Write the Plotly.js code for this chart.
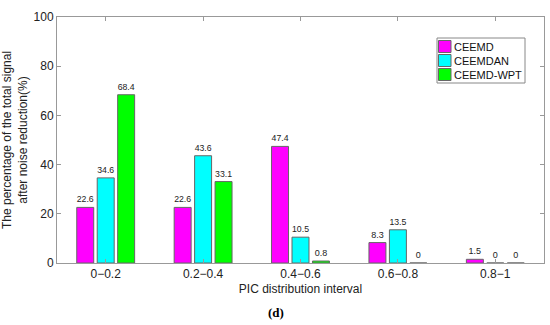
<!DOCTYPE html>
<html><head><meta charset="utf-8">
<script src="https://cdn.plot.ly/plotly-3.0.1.min.js"></script>
<style>html,body{margin:0;padding:0;background:#fff}#chart{width:550px;height:325px}</style>
</head><body><div id="chart"></div>
<script>
const categories = ["0\u22120.2", "0.2\u22120.4", "0.4\u22120.6", "0.6\u22120.8", "0.8\u22121"];
const seriesNames = ["CEEMD", "CEEMDAN", "CEEMD-WPT"];
const ceemd = [22.6, 22.6, 47.4, 8.3, 1.5];
const ceemdan = [34.6, 43.6, 10.5, 13.5, 0];
const ceemdWpt = [68.4, 33.1, 0.8, 0, 0];
const colors = ["#FF00FF", "#00FFFF", "#00FF00"];
const yTicks = [0, 20, 40, 60, 80, 100];

const FONT = "Liberation Sans, Arial, sans-serif";
const allVals = [ceemd, ceemdan, ceemdWpt];
const traces = allVals.map((vals, i) => ({
  type: "bar",
  name: seriesNames[i],
  x: categories,
  y: vals,
  text: vals.map(v => String(v)),
  textposition: "outside",
  cliponaxis: false,
  textfont: {family: FONT, size: 9, color: "#222"},
  marker: {color: colors[i], line: {color: "#666", width: 1}},
  showlegend: false
}));

const axisCommon = {
  showline: true, linecolor: "#999", linewidth: 1, mirror: "ticks",
  ticks: "inside", tickcolor: "#999", ticklen: 4,
  showgrid: false, zeroline: false,
  tickfont: {family: FONT, size: 12, color: "#222"}
};

// Custom compact legend (paper coords), built from seriesNames/colors
const W = 550, H = 325, ML = 57, MR = 6, MT = 17, MB = 62;
const pw = W - ML - MR, ph = H - MT - MB;
const px = x => (x - ML) / pw;
const py = y => 1 - (y - MT) / ph;
const shapes = [{
  type: "rect", xref: "paper", yref: "paper",
  x0: px(437), x1: px(525), y0: py(83), y1: py(38),
  line: {color: "#888", width: 1}, fillcolor: "#fff"
}];
const annotations = [];
seriesNames.forEach((n, i) => {
  const top = 40.5 + i * 14;
  shapes.push({
    type: "rect", xref: "paper", yref: "paper",
    x0: px(438.5), x1: px(451), y0: py(top + 12), y1: py(top),
    line: {color: "#666", width: 1}, fillcolor: colors[i]
  });
  annotations.push({
    text: n, xref: "paper", yref: "paper", x: px(451.5), y: py(top + 6.5),
    xanchor: "left", yanchor: "middle", showarrow: false,
    font: {family: FONT, size: 11, color: "#111"}
  });
});
annotations.push({
  text: "<b>(d)</b>", xref: "paper", yref: "paper", x: px(276), y: py(312),
  xanchor: "center", yanchor: "middle", showarrow: false,
  font: {family: "Liberation Serif, Times New Roman, serif", size: 13, color: "#000"}
});

const layout = {
  width: W, height: H,
  margin: {l: ML, r: MR, t: MT, b: MB},
  paper_bgcolor: "#fff", plot_bgcolor: "#fff",
  barmode: "group", bargap: 0.37, bargroupgap: 0.17,
  showlegend: false,
  xaxis: Object.assign({}, axisCommon, {
    type: "category", range: [-0.5, 4.5],
    title: {text: "PIC distribution interval", standoff: 4,
      font: {family: FONT, size: 12, color: "#222"}}
  }),
  yaxis: Object.assign({}, axisCommon, {
    range: [0, 100], tickvals: yTicks,
    title: {text: "The percentage of the total signal<br>after noise reduction(%)", standoff: 8,
      font: {family: FONT, size: 12, color: "#222"}}
  }),
  shapes: shapes,
  annotations: annotations
};

Plotly.newPlot("chart", traces, layout, {displayModeBar: false, staticPlot: true});
</script></body></html>
